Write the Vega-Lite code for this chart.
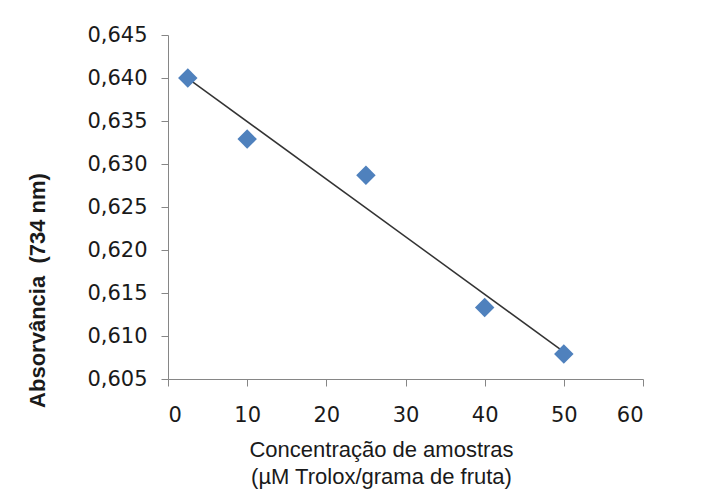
{
  "$schema": "https://vega.github.io/schema/vega-lite/v6.json",
  "autosize": "none",
  "width": 475,
  "height": 344,
  "padding": {"left": 168, "top": 35, "right": 70, "bottom": 115},
  "background": "white",
  "config": {
    "view": {"stroke": null},
    "locale": {"number": {"decimal": ",", "thousands": ".", "grouping": [3], "currency": ["", ""]}},
    "axis": {
      "grid": false,
      "domainColor": "#868686",
      "tickColor": "#868686",
      "tickSize": 7,
      "labelFont": "DejaVu Sans",
      "labelFontSize": 21,
      "labelColor": "#1a1a1a",
      "titleColor": "#1a1a1a"
    }
  },
  "data": {
    "values": [
      {"conc": 2.5, "abs": 0.6400},
      {"conc": 10, "abs": 0.6329},
      {"conc": 25, "abs": 0.6287},
      {"conc": 40, "abs": 0.6133},
      {"conc": 50, "abs": 0.6079}
    ]
  },
  "layer": [
    {
      "transform": [{"regression": "abs", "on": "conc"}],
      "mark": {"type": "line", "color": "#333333", "strokeWidth": 1.5},
      "encoding": {
        "x": {"field": "conc", "type": "quantitative"},
        "y": {"field": "abs", "type": "quantitative"}
      }
    },
    {
      "mark": {"type": "point", "shape": "diamond", "filled": true, "color": "#4F81BD", "opacity": 1, "size": 380},
      "encoding": {
        "x": {
          "field": "conc", "type": "quantitative",
          "scale": {"domain": [0, 60], "nice": false, "zero": false},
          "axis": {
            "values": [0, 10, 20, 30, 40, 50, 60],
            "labelPadding": 18,
            "labelBaseline": "top",
            "title": ["Concentração de amostras", "(µM Trolox/grama de fruta)"],
            "titleFont": "Liberation Sans",
            "titleFontSize": 22,
            "titleFontWeight": "normal",
            "titleLineHeight": 27,
            "titleX": 213,
            "titleY": 60,
            "titleAlign": "center",
            "titleBaseline": "top"
          }
        },
        "y": {
          "field": "abs", "type": "quantitative",
          "scale": {"domain": [0.605, 0.645], "nice": false, "zero": false},
          "axis": {
            "values": [0.605, 0.61, 0.615, 0.62, 0.625, 0.63, 0.635, 0.64, 0.645],
            "format": ".3f",
            "labelPadding": 14,
            "title": "Absorvância\u00a0 (734 nm)",
            "titleFont": "Liberation Sans",
            "titleFontSize": 22,
            "titleFontWeight": "bold",
            "titleAngle": -90,
            "titleX": -131,
            "titleY": 255,
            "titleAlign": "center",
            "titleBaseline": "middle"
          }
        }
      }
    }
  ]
}
